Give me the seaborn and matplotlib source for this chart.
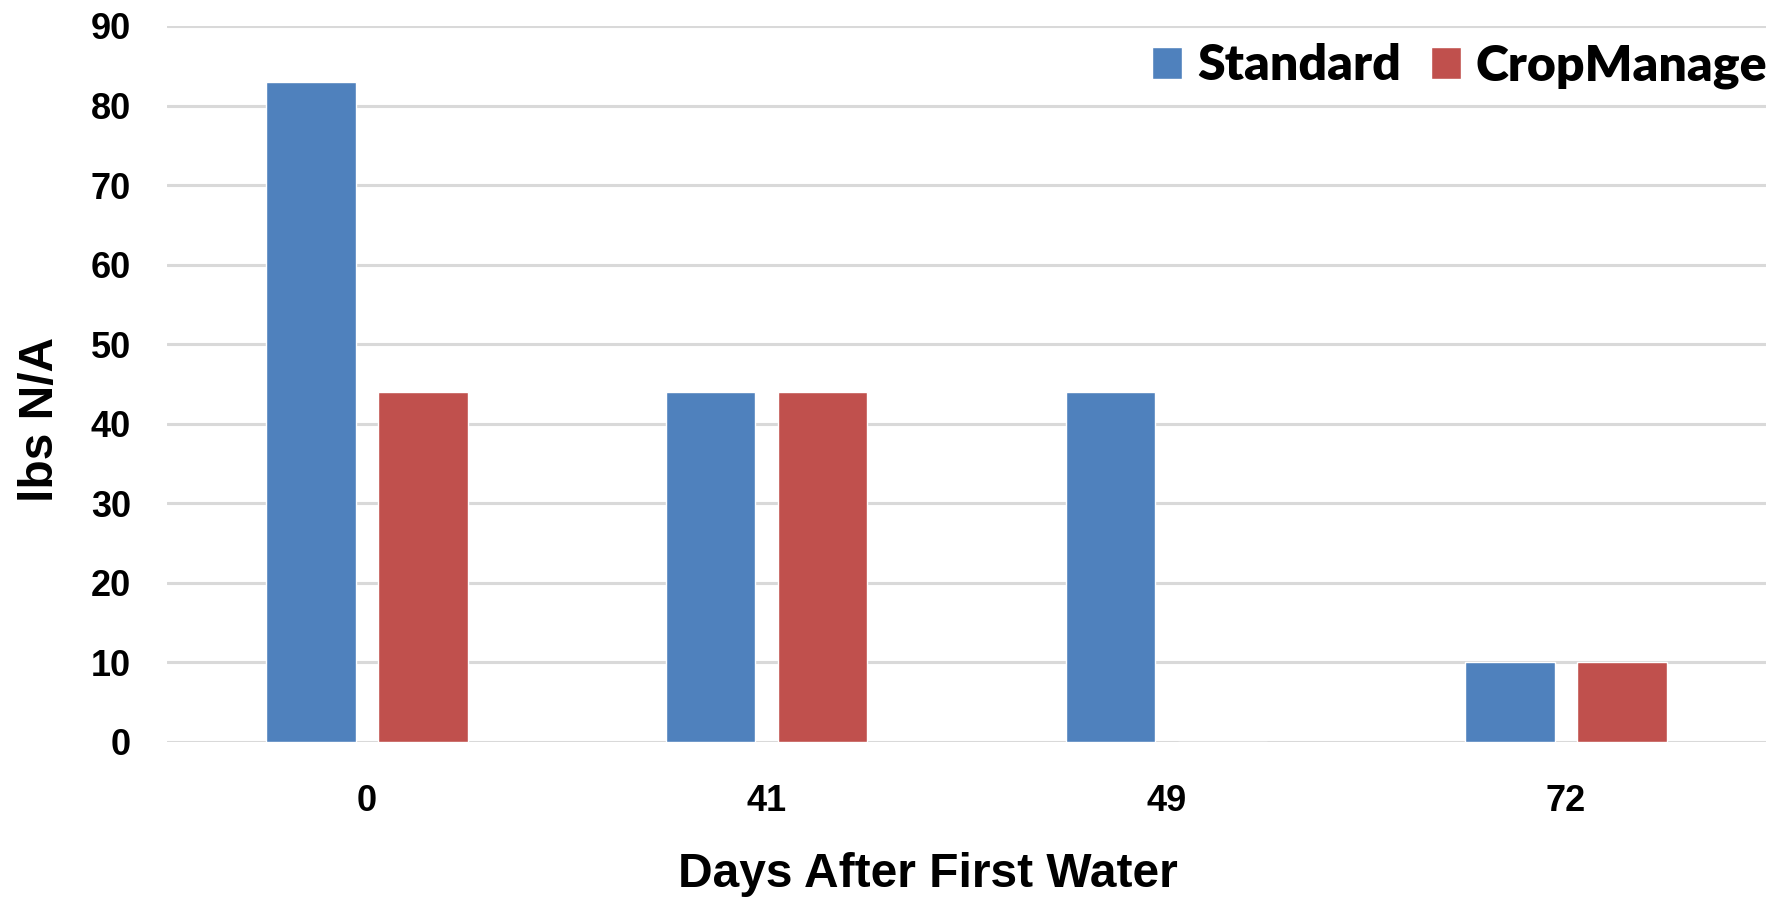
import matplotlib
matplotlib.use("Agg")
import matplotlib.pyplot as plt
import seaborn as sns
import pandas as pd

days = ["0", "41", "49", "72"]
standard = [83, 44, 44, 10]
cropmanage = [44, 44, 0, 10]
series_names = ["Standard", "CropManage"]
colors = ["#4F81BD", "#C0504D"]
yticks = [0, 10, 20, 30, 40, 50, 60, 70, 80, 90]

df = pd.DataFrame({
    "day": days * 2,
    "value": standard + cropmanage,
    "series": [series_names[0]] * len(days) + [series_names[1]] * len(days),
})

sns.set_style("white")
plt.rcParams["font.family"] = ["Liberation Sans", "DejaVu Sans"]
plt.rcParams["text.color"] = "black"
plt.rcParams["axes.labelcolor"] = "black"
plt.rcParams["xtick.color"] = "black"
plt.rcParams["ytick.color"] = "black"

fig = plt.figure(figsize=(17.87, 9.01), dpi=100)
ax = fig.add_axes([0.0935, 0.1765, 0.8947, 0.7947])

sns.barplot(data=df, x="day", y="value", hue="series", order=days,
            hue_order=series_names, palette=colors, width=0.56, gap=0.2,
            saturation=1, ax=ax, legend=True, errorbar=None)

ax.set_ylim(0, 90)
ax.set_xlim(-0.5, len(days) - 0.5)
ax.set_yticks(yticks)
ax.yaxis.grid(True, color="#D9D9D9", linewidth=2.2)
ax.set_axisbelow(True)
for s in ax.spines.values():
    s.set_visible(False)
ax.tick_params(axis="both", length=0, labelcolor="black")
ax.tick_params(axis="y", pad=26, labelsize=26)
ax.tick_params(axis="x", pad=30, labelsize=26)
for lab in ax.get_xticklabels() + ax.get_yticklabels():
    lab.set_fontweight("bold")

ax.set_xlabel("Days After First Water", fontsize=34.5, fontweight="bold",
              labelpad=24, color="black")
ax.set_ylabel("lbs N/A", fontsize=34.5, fontweight="bold", labelpad=20,
              color="black")
ax.xaxis.label.set_x(0.476)
ax.yaxis.label.set_y(0.45)

handles, labels = ax.get_legend_handles_labels()
leg = ax.legend(handles, labels, loc="center right", bbox_to_anchor=(1.001, 0.944),
                ncol=2, frameon=False, handlelength=0.6, handleheight=0.6,
                handletextpad=0.3, columnspacing=0.6, borderpad=0, borderaxespad=0,
                prop={"family": ["Lato", "DejaVu Sans"], "weight": "heavy", "size": 36})
for t in leg.get_texts():
    t.set_color("black")

fig.savefig("out.png", dpi=100)
